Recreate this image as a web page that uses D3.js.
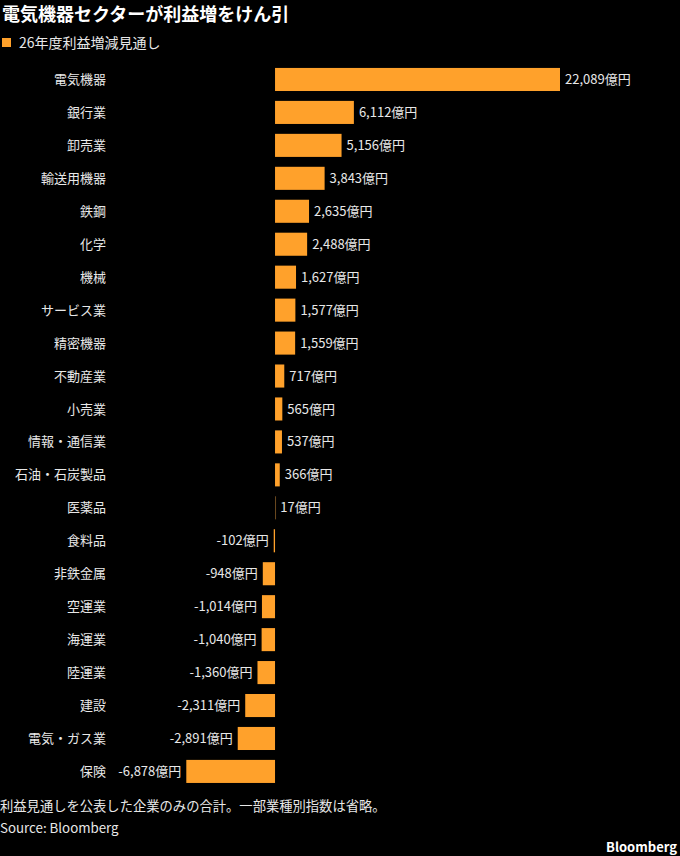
<!DOCTYPE html>
<html>
<head>
<meta charset="utf-8">
<script src="https://cdn.jsdelivr.net/npm/d3@7"></script>
<style>
  body { margin: 0; background: #000; }
  svg { display: block; font-family: 'Noto Sans CJK JP', 'Noto Sans', sans-serif; }
</style>
</head>
<body>
<svg width="680" height="856"></svg>
<script>
const sectors = [
  '電気機器', '銀行業', '卸売業', '輸送用機器', '鉄鋼', '化学', '機械',
  'サービス業', '精密機器', '不動産業', '小売業', '情報・通信業',
  '石油・石炭製品', '医薬品', '食料品', '非鉄金属', '空運業', '海運業',
  '陸運業', '建設', '電気・ガス業', '保険'
]
const values = [
  22089, 6112, 5156, 3843, 2635, 2488, 1627, 1577, 1559, 717, 565, 537,
  366, 17, -102, -948, -1014, -1040, -1360, -2311, -2891, -6878
]

const data = sectors.map((s, i) => ({ name: s, value: values[i] }))

const orange = '#ffa12b'
const textColor = '#e8e8e8'

const svg = d3.select('svg')
svg.append('rect').attr('width', 680).attr('height', 856).attr('fill', '#000')

// title + legend
svg.append('text')
  .attr('x', 2).attr('y', 21)
  .attr('fill', '#fff').attr('font-size', 18).attr('font-weight', 'bold')
  .text('電気機器セクターが利益増をけん引')

svg.append('rect')
  .attr('x', 2).attr('y', 38).attr('width', 9).attr('height', 9)
  .attr('fill', orange)
svg.append('text')
  .attr('x', 19).attr('y', 48)
  .attr('fill', textColor).attr('font-size', 14)
  .text('26年度利益増減見通し')

const x = d3.scaleLinear()
  .domain([d3.min(values), d3.max(values)])
  .range([186.3, 560])

const y = d3.scaleBand()
  .domain(sectors)
  .range([63, 63 + 22 * 32.95])
  .paddingInner(0.3)
  .paddingOuter(0.15)

const fmt = d3.format(',')

svg.selectAll('.bar')
  .data(data)
  .enter()
  .append('rect')
  .attr('class', 'bar')
  .attr('x', (d) => x(Math.min(0, d.value)))
  .attr('y', (d) => y(d.name))
  .attr('width', (d) => Math.max(1, Math.abs(x(d.value) - x(0))))
  .attr('height', y.bandwidth())
  .attr('fill', (d) => (d.value === 17 ? '#6b4a1f' : orange))

svg.selectAll('.cat')
  .data(data)
  .enter()
  .append('text')
  .attr('class', 'cat')
  .attr('x', 106)
  .attr('y', (d) => y(d.name) + y.bandwidth() / 2)
  .attr('dy', '0.35em')
  .attr('text-anchor', 'end')
  .attr('fill', textColor)
  .attr('font-size', 13)
  .text((d) => d.name)

svg.selectAll('.val')
  .data(data)
  .enter()
  .append('text')
  .attr('class', 'val')
  .attr('x', (d) => (d.value >= 0 ? x(d.value) + 5 : x(d.value) - 5))
  .attr('y', (d) => y(d.name) + y.bandwidth() / 2)
  .attr('dy', '0.35em')
  .attr('text-anchor', (d) => (d.value >= 0 ? 'start' : 'end'))
  .attr('fill', textColor)
  .attr('font-size', 13)
  .text((d) => fmt(d.value).replace('−', '-') + '億円')

// footer
svg.append('text')
  .attr('x', 0).attr('y', 811)
  .attr('fill', textColor).attr('font-size', 13.3)
  .text('利益見通しを公表した企業のみの合計。一部業種別指数は省略。')
svg.append('text')
  .attr('x', 0).attr('y', 833)
  .attr('fill', textColor).attr('font-size', 13.3)
  .text('Source: Bloomberg')
svg.append('text')
  .attr('x', 677).attr('y', 852)
  .attr('text-anchor', 'end')
  .attr('fill', '#fff').attr('font-size', 13).attr('font-weight', 'bold')
  .text('Bloomberg')
</script>
</body>
</html>
